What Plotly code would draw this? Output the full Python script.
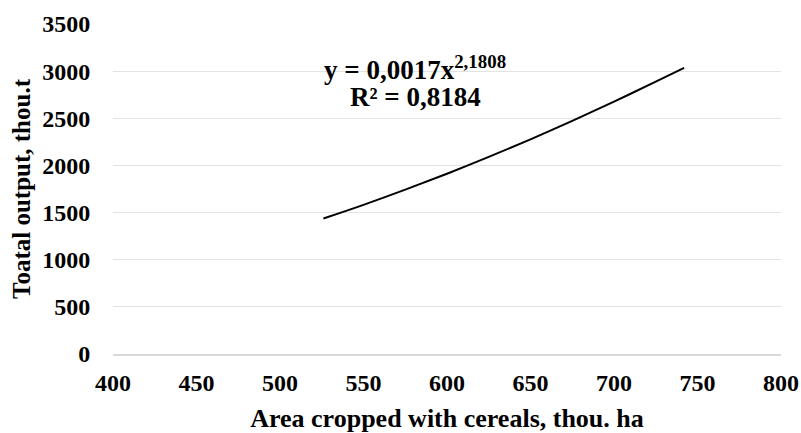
import plotly.graph_objects as go

# Trend curve
area = [526, 550, 575, 600, 625, 650, 675, 700, 725, 742]
output = [1437, 1582, 1743, 1912, 2090, 2277, 2472, 2676, 2889, 3035]

x_ticks = [400, 450, 500, 550, 600, 650, 700, 750, 800]
y_ticks = [0, 500, 1000, 1500, 2000, 2500, 3000, 3500]

eq_line1 = "y = 0,0017x<sup>2,1808</sup>"
eq_line2 = "R² = 0,8184"

FONT = "Liberation Serif"

fig = go.Figure()
fig.add_trace(go.Scatter(
    x=area, y=output, mode="lines",
    line=dict(color="black", width=2, shape="spline"),
    showlegend=False, hoverinfo="skip",
))

fig.add_annotation(
    x=581, y=3035, xref="x", yref="y",
    text=eq_line1, showarrow=False, align="center",
    xanchor="center", yanchor="middle",
    font=dict(family=FONT, size=27, color="black", weight="bold"),
)
fig.add_annotation(
    x=581, y=2722, xref="x", yref="y",
    text=eq_line2, showarrow=False, align="center",
    xanchor="center", yanchor="middle",
    font=dict(family=FONT, size=27, color="black", weight="bold"),
)

fig.update_layout(
    width=801, height=433,
    margin=dict(l=113, r=20, t=24, b=79),
    paper_bgcolor="white", plot_bgcolor="white",
    font=dict(family=FONT, size=24, color="black", weight="bold"),
    xaxis=dict(
        range=[400, 800], tickvals=x_ticks, ticktext=[str(v) for v in x_ticks],
        showgrid=False, zeroline=False, automargin=False,
        showline=True, linecolor="#d9d9d9", linewidth=2,
        ticks="outside", ticklen=6, tickcolor="rgba(0,0,0,0)",
        title=dict(text="Area cropped with cereals, thou. ha", standoff=17,
                   font=dict(family=FONT, size=26, weight="bold")),
        tickfont=dict(family=FONT, size=24, weight="bold"),
        fixedrange=True,
    ),
    yaxis=dict(
        range=[0, 3500], tickvals=y_ticks, ticktext=[str(v) for v in y_ticks],
        showgrid=True, gridcolor="#e3e3e3", gridwidth=1, zeroline=False,
        showline=False, automargin=False,
        ticks="outside", ticklen=17, tickcolor="rgba(0,0,0,0)",
        title=dict(text="Toatal output, thou.t", standoff=4,
                   font=dict(family=FONT, size=25, weight="bold")),
        tickfont=dict(family=FONT, size=24, weight="bold"),
        fixedrange=True,
    ),
)

fig.write_html(
    "out.html",
    config={"displayModeBar": False},
    post_script="document.body.style.margin='0';document.body.style.overflow='hidden';",
)
